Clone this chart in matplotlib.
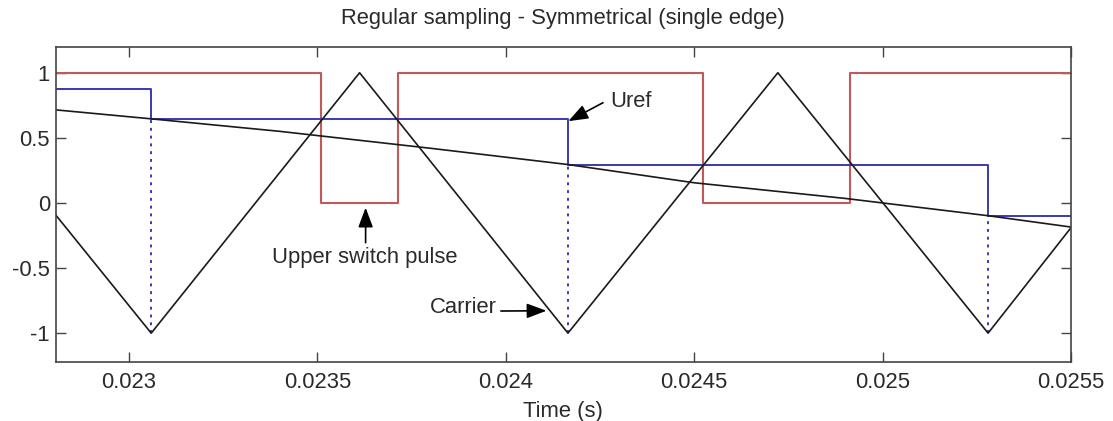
import matplotlib
matplotlib.use("Agg")
import matplotlib.pyplot as plt

plt.rcParams['font.family'] = ['Liberation Sans', 'DejaVu Sans']

# ---- data ----
carrier_t = [0.022805, 0.023059, 0.023612, 0.024165, 0.024722, 0.02528, 0.0255]
carrier_v = [-0.09, -1.0, 1.0, -1.0, 1.0, -1.0, -0.19]

ref_t = [0.022805, 0.023059, 0.0234, 0.0238, 0.024165, 0.0245, 0.0249, 0.02528, 0.0255]
ref_v = [0.715, 0.646, 0.55, 0.42, 0.295, 0.155, 0.035, -0.098, -0.185]

uref_t = [0.022805, 0.023059, 0.024165, 0.02528, 0.0255]
uref_v = [0.877, 0.646, 0.295, -0.098, -0.098]

sample_t = [0.023059, 0.024165, 0.02528]
sample_v = [0.646, 0.295, -0.098]

pulse_t = [0.022805, 0.023509, 0.023714, 0.024523, 0.024913, 0.0255]
pulse_v = [1, 0, 1, 0, 1, 1]

xticks = [0.023, 0.0235, 0.024, 0.0245, 0.025, 0.0255]
xtick_labels = ['0.023', '0.0235', '0.024', '0.0245', '0.025', '0.0255']
yticks = [-1, -0.5, 0, 0.5, 1]
ytick_labels = ['-1', '-0.5', '0', '0.5', '1']

# ---- figure ----
W, H = 1113, 421
fig = plt.figure(figsize=(W / 100, H / 100), dpi=100)
ax = fig.add_axes([55.5 / W, (H - 361.8) / H, (1071 - 55.5) / W, (361.8 - 46.7) / H])

red = '#c05a5a'
blue = '#3a3ab0'
txt = '#2a2a2a'
fs = 15.8

ax.plot(pulse_t, pulse_v, drawstyle='steps-post', color=red, lw=1.5)
ax.plot(uref_t, uref_v, drawstyle='steps-post', color=blue, lw=1.4)
ax.vlines(sample_t, -1, sample_v, colors=blue, linestyles=(0, (1.5, 2.5)), lw=1.4)
ax.plot(carrier_t, carrier_v, color='#1a1a1a', lw=1.2)
ax.plot(ref_t, ref_v, color='#1a1a1a', lw=1.2)

ax.set_xlim(0.022805, 0.0255)
ax.set_ylim(-1.22, 1.2)
ax.set_xticks(xticks)
ax.set_xticklabels(xtick_labels)
ax.set_yticks(yticks)
ax.set_yticklabels(ytick_labels)
ax.tick_params(direction='in', top=True, right=True, length=7, width=1,
               labelsize=fs, colors='#444444', labelcolor=txt)
ax.tick_params(axis='x', pad=7)
ax.tick_params(axis='y', pad=4)
for s in ax.spines.values():
    s.set_color('#444444')
    s.set_linewidth(1.2)

ax.set_title('Regular sampling - Symmetrical (single edge)', fontsize=fs, color=txt, pad=16)
ax.set_xlabel('Time (s)', fontsize=fs, color=txt, labelpad=6)

ap = dict(arrowstyle='-|>,head_length=1.2,head_width=0.45', color='k', lw=1.2,
          shrinkA=0, shrinkB=0)
ax.annotate('', xy=(0.024166, 0.628), xytext=(0.024258, 0.77), arrowprops=ap)
ax.text(0.024276, 0.78, 'Uref', fontsize=fs, color=txt, ha='left', va='center')

ax.annotate('', xy=(0.023628, -0.036), xytext=(0.023628, -0.305), arrowprops=ap)
ax.text(0.023625, -0.42, 'Upper switch pulse', fontsize=fs, color=txt, ha='center', va='center')

ax.annotate('', xy=(0.024108, -0.828), xytext=(0.023987, -0.83), arrowprops=ap)
ax.text(0.023976, -0.805, 'Carrier', fontsize=fs, color=txt, ha='right', va='center')

fig.savefig('out.png', dpi=100)
